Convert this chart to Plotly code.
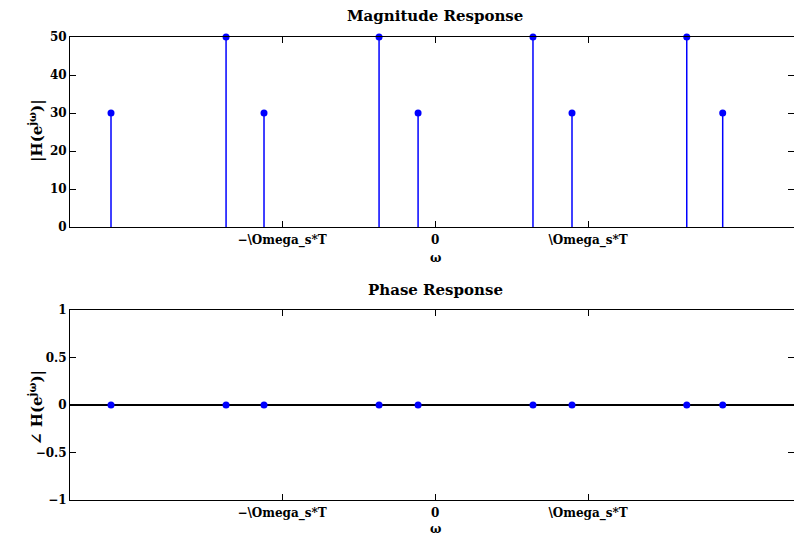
import plotly.graph_objects as go

# Spectral lines, frequency in units of Omega_s*T
freqs = [-2.118, -1.366, -1.118, -0.366, -0.111, 0.640, 0.895, 1.645, 1.880]
magnitude = [30, 50, 30, 50, 30, 50, 30, 50, 30]
phase = [0, 0, 0, 0, 0, 0, 0, 0, 0]

x_tick_vals = [-1, 0, 1]
x_tick_text = ["\u2212\\Omega_s*T", "0", "\\Omega_s*T"]
mag_ticks = [0, 10, 20, 30, 40, 50]
phase_ticks = [-1, -0.5, 0, 0.5, 1]

FONT = "DejaVu Serif"
STEM = "#0000ff"
W, H = 794, 537
ML, MR, MT, MB = 70, 0, 37, 37
X_RANGE = [-2.386, 2.346]


def stem_segments(xs, ys):
    sx, sy = [], []
    for x, y in zip(xs, ys):
        sx += [x, x, None]
        sy += [0, y, None]
    return sx, sy


fig = go.Figure()

for vals, xa, ya in [(magnitude, "x", "y"), (phase, "x2", "y2")]:
    sx, sy = stem_segments(freqs, vals)
    fig.add_trace(go.Scatter(x=sx, y=sy, mode="lines", xaxis=xa, yaxis=ya,
                             line=dict(color=STEM, width=1.5),
                             hoverinfo="skip", showlegend=False))
    fig.add_trace(go.Scatter(x=freqs, y=vals, mode="markers", xaxis=xa, yaxis=ya,
                             marker=dict(color=STEM, size=7), cliponaxis=False,
                             showlegend=False))

tickfont = dict(family=FONT, size=12, color="black", weight="bold")
axis_common = dict(showline=True, linecolor="black", linewidth=1, mirror="allticks",
                   ticks="inside", ticklen=6, tickcolor="black", tickwidth=1,
                   showgrid=False, tickfont=tickfont)

plot_h = H - MT - MB
sub_h = 190 / plot_h

fig.update_layout(
    width=W, height=H,
    margin=dict(l=ML, r=MR, t=MT, b=MB),
    paper_bgcolor="white", plot_bgcolor="white",
    font=dict(family=FONT, color="black"),
    xaxis=dict(domain=[0, 1], anchor="y", range=X_RANGE, tickvals=x_tick_vals,
               ticktext=x_tick_text, zeroline=False, ticklabelstandoff=2,
               **axis_common),
    yaxis=dict(domain=[1 - sub_h, 1], anchor="x", range=[0, 50], tickvals=mag_ticks,
               zeroline=False, **axis_common),
    xaxis2=dict(domain=[0, 1], anchor="y2", range=X_RANGE, tickvals=x_tick_vals,
                ticktext=x_tick_text, zeroline=False, ticklabelstandoff=2,
                **axis_common),
    yaxis2=dict(domain=[0, sub_h], anchor="x2", range=[-1, 1], tickvals=phase_ticks,
                zeroline=True, zerolinecolor="black", zerolinewidth=1.5,
                **axis_common),
)


def py(pixel_y):
    # pixel row from the top of the page -> paper coordinate
    return (H - MB - pixel_y) / plot_h


def px(pixel_x):
    return (pixel_x - ML) / (W - ML - MR)


labels = [
    ("<b>Magnitude Response</b>", 435, 16, 15, 0),
    ("<b>Phase Response</b>", 435, 290, 15, 0),
    ("<b>\u03c9</b>", 435, 258, 12, 0),
    ("<b>\u03c9</b>", 435, 529, 12, 0),
    ("<b>|H(e<sup>j\u03c9</sup>)|</b>", 36, 131, 15, -90),
    ("<b>\u2220 H(e<sup>j\u03c9</sup>)|</b>", 36, 408, 15, -90),
]
for text, x, y, size, angle in labels:
    fig.add_annotation(text=text, xref="paper", yref="paper", x=px(x), y=py(y),
                       xanchor="center", yanchor="middle", showarrow=False,
                       textangle=angle, font=dict(family=FONT, size=size, color="black"))

fig.write_html("out.html")
